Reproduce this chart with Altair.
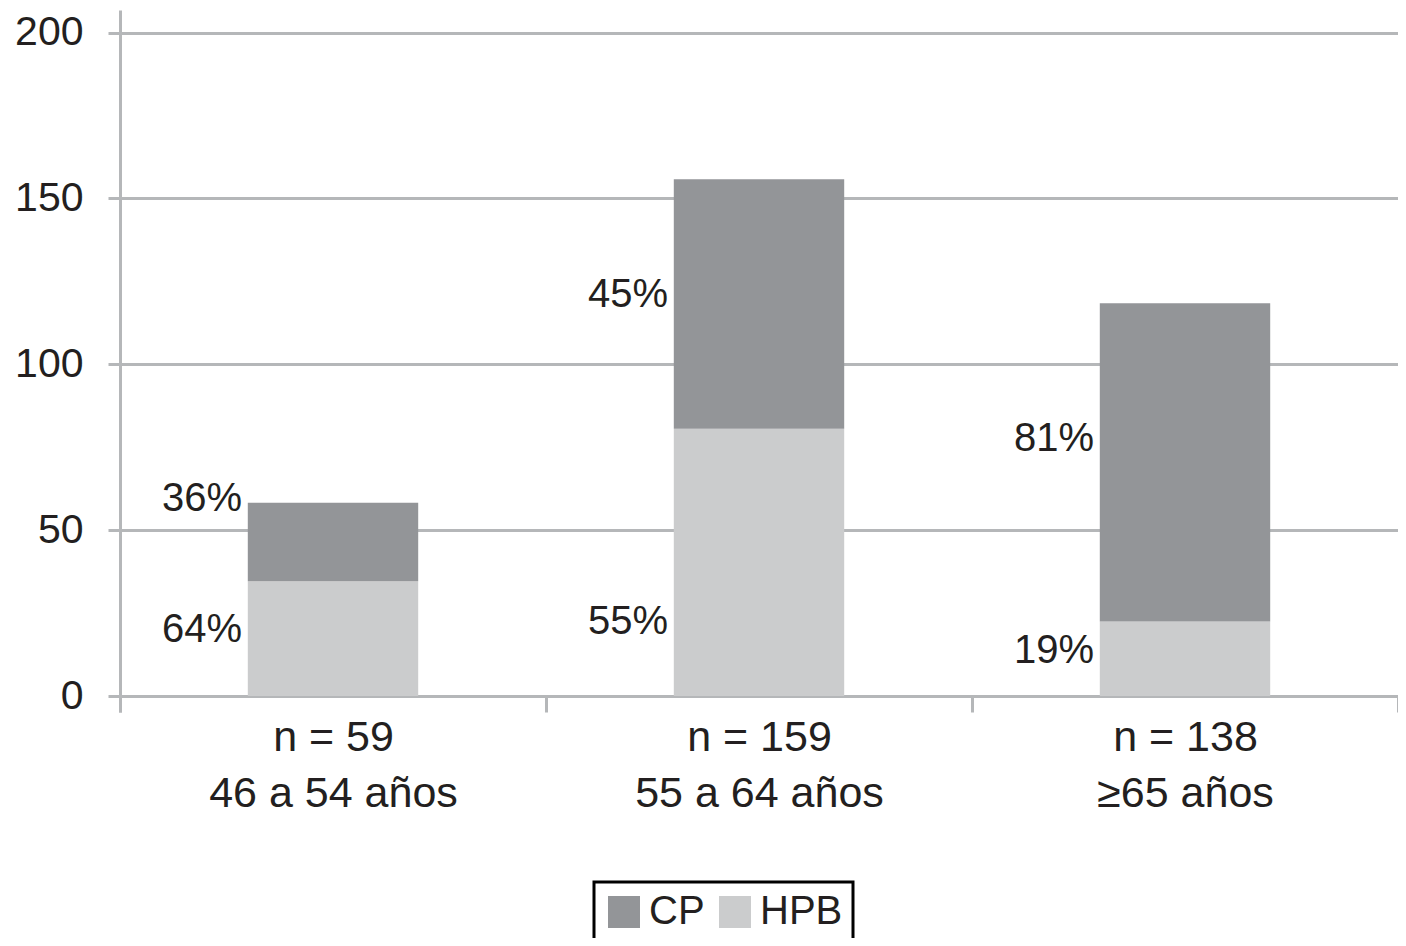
import altair as alt
import pandas as pd

categories = ["n = 59|46 a 54 años", "n = 159|55 a 64 años", "n = 138|≥65 años"]
series = ["CP", "HPB"]
hpb_values = [34.6, 80.6, 22.5]
cp_values = [23.7, 75.2, 95.9]
hpb_labels = ["64%", "55%", "19%"]
cp_labels = ["36%", "45%", "81%"]
hpb_label_y = [20.0, 22.4, 13.7]
cp_label_y = [59.5, 121.0, 77.5]

rows = []
for i, c in enumerate(categories):
    rows.append({"cat": c, "series": "HPB", "value": hpb_values[i], "ord": 0,
                 "label": hpb_labels[i], "label_y": hpb_label_y[i]})
    rows.append({"cat": c, "series": "CP", "value": cp_values[i], "ord": 1,
                 "label": cp_labels[i], "label_y": cp_label_y[i]})
df = pd.DataFrame(rows)

FONT = "Liberation Sans"
GRID = "#b5b7b9"
TXT = "#231f20"
W, H = 1278, 702

x_enc = alt.X(
    "cat:N", sort=categories, title=None,
    scale=alt.Scale(paddingInner=0, paddingOuter=0),
    axis=alt.Axis(
        orient="bottom", offset=-16, domain=False, ticks=True, tickBand="extent",
        tickSize=16, tickColor=GRID, tickWidth=3, grid=False,
        labelExpr="split(datum.label, '|')", labelFontSize=43, labelLineHeight=56,
        labelFont=FONT, labelColor=TXT, labelPadding=4, labelAngle=0,
        labelBaseline="top", labelLimit=0,
    ),
)

y_scale = alt.Scale(domain=[-4.8, 206.8], nice=False, zero=False)

bars = alt.Chart(df).mark_bar(width=alt.RelativeBandSize(0.4)).encode(
    x=x_enc,
    y=alt.Y(
        "value:Q", stack="zero", scale=y_scale, title=None,
        axis=alt.Axis(
            values=[0, 50, 100, 150, 200], domainColor=GRID, domainWidth=3,
            tickColor=GRID, tickWidth=3, tickSize=12, grid=True, gridColor=GRID,
            gridWidth=3, labelFontSize=41, labelFont=FONT, labelColor=TXT,
            labelPadding=25,
        ),
    ),
    color=alt.Color(
        "series:N",
        scale=alt.Scale(domain=series, range=["#939598", "#cbcccd"]),
        legend=alt.Legend(
            title=None, orient="none", legendX=474, legendY=872,
            direction="horizontal", strokeColor="black",
            fillColor="white", padding=10, symbolType="square", symbolSize=1024,
            symbolStrokeWidth=0, symbolOpacity=1, labelFontSize=40,
            labelFont=FONT, labelColor=TXT, labelOffset=5, columnPadding=10,
        ),
    ),
    order=alt.Order("ord:Q"),
)

text = alt.Chart(df).mark_text(
    align="right", baseline="middle", dx=-91, fontSize=40, font=FONT, color=TXT
).encode(
    x=alt.X("cat:N", sort=categories),
    y=alt.Y("label_y:Q", scale=y_scale),
    text="label:N",
)

chart = alt.layer(bars, text).properties(
    width=W, height=H,
    padding={"left": 112, "top": 2, "right": 0, "bottom": 226},
    autosize=alt.AutoSizeParams(type="none"),
).configure_view(strokeWidth=0).configure_legend(strokeWidth=3)

chart.save("out.html", embed_options={"renderer": "svg", "actions": False})
